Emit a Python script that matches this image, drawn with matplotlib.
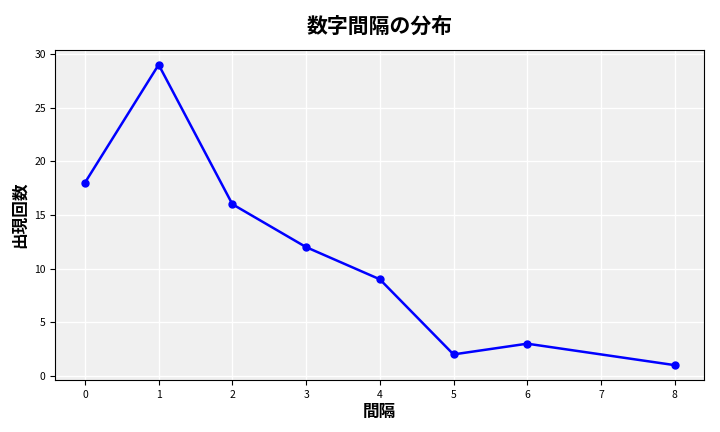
import matplotlib
matplotlib.use("Agg")
import matplotlib.pyplot as plt

plt.rcParams['font.family'] = ['Noto Sans CJK JP', 'DejaVu Sans']

gaps = [0, 1, 2, 3, 4, 5, 6, 8]
counts = [18, 29, 16, 12, 9, 2, 3, 1]

fig, ax = plt.subplots(figsize=(7.2, 4.32), dpi=100)
ax.set_facecolor('#f0f0f0')
ax.grid(True, color='white', linewidth=1)
ax.set_axisbelow(True)
ax.plot(gaps, counts, color='blue', marker='o', markersize=5, linewidth=1.8)
ax.set_title('数字間隔の分布', fontsize=15, fontweight='bold', pad=12)
ax.set_xlabel('間隔', fontsize=12, fontweight='bold', labelpad=2)
ax.set_ylabel('出現回数', fontsize=12, fontweight='bold')
ax.set_xticks(range(0, 9))
ax.tick_params(labelsize=7.5)
fig.subplots_adjust(left=0.077, right=0.978, top=0.885, bottom=0.12)
fig.savefig('out.png')
